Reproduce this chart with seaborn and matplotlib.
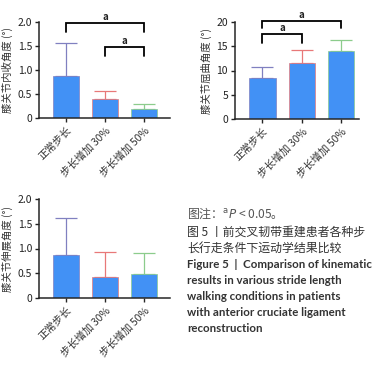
import seaborn as sns
import pandas as pd
import matplotlib.pyplot as plt

# data
groups = ['正常步长', '步长增加 30%', '步长增加 50%']
adduction = [0.88, 0.39, 0.18]
adduction_sd = [0.69, 0.18, 0.12]
flexion = [8.4, 11.6, 14.0]
flexion_sd = [2.3, 2.7, 2.3]
extension = [0.86, 0.43, 0.49]
extension_sd = [0.75, 0.50, 0.42]

ylabels = ['膝关节内收角度 (°)', '膝关节屈曲角度 (°)', '膝关节伸展角度 (°)']
err_colors = ['#8080c0', '#e87878', '#8ccc8c']
bar_color = '#4291f5'

sns.set_style('ticks')
plt.rcParams['font.family'] = ['Noto Sans CJK SC', 'DejaVu Sans']
plt.rcParams['axes.unicode_minus'] = False

W, H = 384, 365
fig = plt.figure(figsize=(W / 100, H / 100), dpi=100)


def px_axes(left, top, right, bottom):
    return fig.add_axes([left / W, 1 - bottom / H, (right - left) / W, (bottom - top) / H])


def panel(ax, vals, sds, ylabel, ymax, step, xright):
    df = pd.DataFrame({'group': groups, 'value': vals})
    sns.barplot(data=df, x='group', y='value', color=bar_color, width=0.67,
                saturation=1, errorbar=None, ax=ax)
    for i, (v, s) in enumerate(zip(vals, sds)):
        ax.errorbar(i, v, yerr=[[0], [s]], color=err_colors[i], lw=0.9,
                    capsize=8, capthick=0.9, zorder=1)
    for p, c in zip(ax.patches, err_colors):
        p.set_edgecolor(c)
        p.set_linewidth(0.5)
        p.set_zorder(2)
    ax.set_xlim(-0.7, xright)
    ax.set_ylim(0, ymax)
    ticks = [k * step for k in range(5)]
    ax.set_yticks(ticks)
    if step < 1:
        ax.set_yticklabels(['0'] + ['%.1f' % t for t in ticks[1:]])
    else:
        ax.set_yticklabels(['%d' % t for t in ticks])
    ax.set_xlabel('')
    ax.set_ylabel(ylabel, fontsize=7.5, color='#333333', labelpad=3)
    ax.set_xticks(range(3))
    ax.set_xticklabels(groups, rotation=45, ha='right', rotation_mode='anchor',
                       fontsize=7.5, color='#333333')
    ax.tick_params(axis='y', labelsize=7.5, colors='#222222', length=3, width=1, pad=2)
    ax.tick_params(axis='x', length=3, width=1, pad=2)
    for s in ['left', 'bottom']:
        ax.spines[s].set_linewidth(1.1)
    sns.despine(ax=ax)


def bracket(ax, x1, x2, y, drop, label_gap):
    ax.plot([x1, x1, x2, x2], [y - drop, y, y, y - drop], color='black', lw=1.3,
            clip_on=False, solid_joinstyle='miter')
    ax.text((x1 + x2) / 2, y + label_gap, 'a', ha='center', va='bottom', fontsize=7,
            fontweight='bold', color='#222222')


ax1 = px_axes(39, 22, 170, 118)
panel(ax1, adduction, adduction_sd, ylabels[0], 2.0, 0.5, 2.67)
bracket(ax1, 0, 2, 1.97, 0.18, 0.02)
bracket(ax1, 1, 2, 1.48, 0.19, 0.02)

ax2 = px_axes(235, 22, 359, 119)
panel(ax2, flexion, flexion_sd, ylabels[1], 20, 5, 2.46)
bracket(ax2, 0, 2, 20.3, 1.5, 0.2)
bracket(ax2, 0, 1, 17.6, 1.9, 0.2)

ax3 = px_axes(39, 199, 170, 298)
panel(ax3, extension, extension_sd, ylabels[2], 2.0, 0.5, 2.67)

# caption on the right
lines = [
    ('图注：$^{\\mathrm{a}}\\mathit{P}$ < 0.05。', 'zh', '#555555'),
    ('图 5 丨前交叉韧带重建患者各种步', 'zh', '#333333'),
    ('长行走条件下运动学结果比较', 'zh', '#333333'),
    ('Figure 5  |  Comparison of kinematic', 'en', '#333333'),
    ('results in various stride length', 'en', '#333333'),
    ('walking conditions in patients', 'en', '#333333'),
    ('with anterior cruciate ligament', 'en', '#333333'),
    ('reconstruction', 'en', '#333333'),
]
ys = [213, 232, 248, 264, 280, 296, 313, 328]
for (t, kind, c), y in zip(lines, ys):
    if kind == 'zh':
        fig.text(187 / W, 1 - y / H, t, fontsize=8.6, color=c, ha='left', va='center',
                 family=['Noto Sans CJK SC', 'DejaVu Sans'])
    else:
        fig.text(187 / W, 1 - y / H, t, fontsize=8.3, fontweight='bold', color=c,
                 ha='left', va='center', family=['Lato', 'DejaVu Sans'])

fig.savefig('out.png', dpi=100)
